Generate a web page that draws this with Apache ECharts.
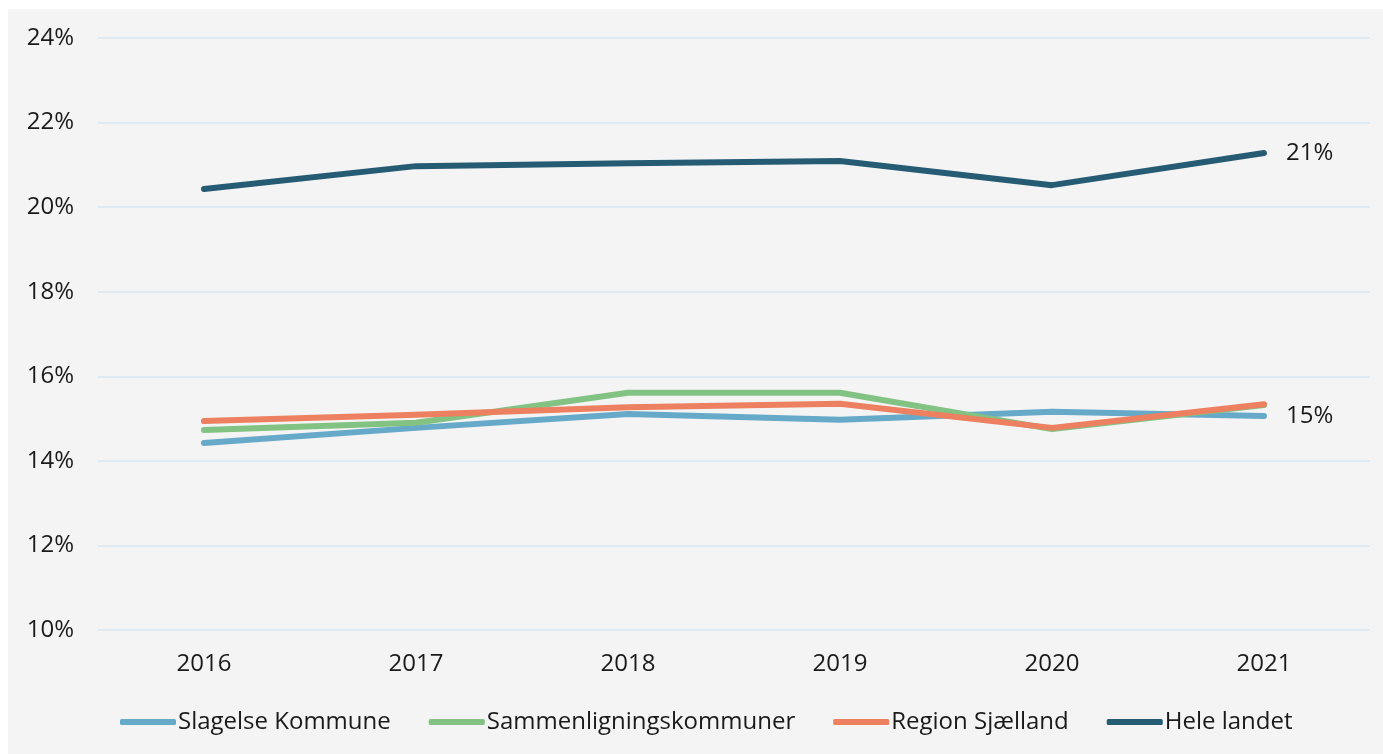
<!DOCTYPE html>
<html>
<head>
<meta charset="utf-8">
<script src="https://cdn.jsdelivr.net/npm/echarts@6/dist/echarts.min.js"></script>
<style>
  html, body { margin: 0; padding: 0; background: #ffffff; }
  #chart { position: absolute; left: 8px; top: 9px; width: 1375px; height: 745px; }
</style>
</head>
<body>
<div id="chart"></div>
<script>
// data
const years = ['2016', '2017', '2018', '2019', '2020', '2021'];
const slagelse = [14.42, 14.78, 15.11, 14.97, 15.16, 15.06];
const sammenligning = [14.73, 14.90, 15.61, 15.61, 14.75, 15.32];
const region = [14.94, 15.09, 15.27, 15.35, 14.78, 15.34];
const heleLandet = [20.43, 20.97, 21.04, 21.09, 20.52, 21.28];

const font = '"Open Sans", "Noto Sans", sans-serif';

function lineSeries(name, data, color, withEnd) {
  return {
    name: name,
    type: 'line',
    data: data,
    symbol: 'none',
    lineStyle: { width: 6, color: color, cap: 'round', join: 'round' },
    itemStyle: { color: color },
    endLabel: {
      show: withEnd,
      distance: 22,
      formatter: function (p) { return Math.round(p.value) + '%'; },
      color: '#1a1a1a',
      fontSize: 24,
      fontFamily: font
    }
  };
}

const chart = echarts.init(document.getElementById('chart'));
chart.setOption({
  backgroundColor: '#f4f4f4',
  animation: false,
  grid: { left: 90, right: 13, top: 29, bottom: 124 },
  legend: {
    top: 696,
    left: 107,
    itemWidth: 56,
    itemHeight: 6,
    itemGap: 38,
    icon: 'roundRect',
    textStyle: { fontSize: 24, fontFamily: font, color: '#1a1a1a', padding: [0, 0, 0, -3] },
    data: ['Slagelse Kommune', 'Sammenligningskommuner', 'Region Sjælland', 'Hele landet']
  },
  xAxis: {
    type: 'category',
    data: years,
    boundaryGap: true,
    axisLine: { show: false },
    axisTick: { show: false },
    axisLabel: { fontSize: 24, fontFamily: font, color: '#1a1a1a', margin: 22 }
  },
  yAxis: {
    type: 'value',
    min: 10,
    max: 24,
    interval: 2,
    axisLine: { show: false },
    axisTick: { show: false },
    splitLine: { lineStyle: { color: '#dde9f3', width: 2 } },
    axisLabel: {
      fontSize: 24, fontFamily: font, color: '#1a1a1a', margin: 24,
      formatter: '{value}%'
    }
  },
  series: [
    lineSeries('Slagelse Kommune', slagelse, '#67a9c9', true),
    lineSeries('Sammenligningskommuner', sammenligning, '#82c283', false),
    lineSeries('Region Sjælland', region, '#ec8060', false),
    lineSeries('Hele landet', heleLandet, '#265b74', true)
  ]
});
</script>
</body>
</html>
